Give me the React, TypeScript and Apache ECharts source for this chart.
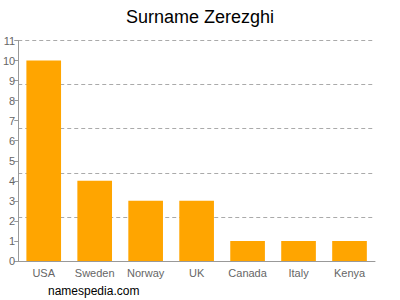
import React, { useEffect, useRef } from "react";
import * as echarts from "echarts";

const categories = ["USA", "Sweden", "Norway", "UK", "Canada", "Italy", "Kenya"];
const values = [10, 4, 3, 3, 1, 1, 1];

export default function App() {
  const ref = useRef<HTMLDivElement>(null);
  useEffect(() => {
    const chart = echarts.init(ref.current!, null, { renderer: "svg" });
    chart.setOption({
      animation: false,
      textStyle: { fontFamily: "Liberation Sans, Arial, sans-serif" },
      title: {
        text: "Surname Zerezghi",
        left: "center",
        top: 3,
        textStyle: { fontSize: 18, fontWeight: "normal", color: "#000", fontFamily: "Liberation Sans, Arial, sans-serif" },
      },
      graphic: [
        {
          type: "text",
          left: 48,
          top: 285,
          style: { text: "namespedia.com", fontSize: 12, fill: "#000", fontFamily: "Liberation Sans, Arial, sans-serif" },
        },
      ],
      grid: { left: 17, right: 25, top: 40.5, bottom: 39, containLabel: false },
      xAxis: {
        type: "category",
        data: categories,
        axisLine: { lineStyle: { color: "#999" } },
        axisTick: { alignWithLabel: true, length: 3, lineStyle: { color: "#999" } },
        axisLabel: { color: "#666", fontSize: 11, margin: 6, interval: 0 },
      },
      yAxis: [
        {
          type: "value",
          min: 0,
          max: 11,
          interval: 1,
          axisLine: { show: true, lineStyle: { color: "#999" } },
          axisTick: { show: true, length: 4, lineStyle: { color: "#999" } },
          axisLabel: { color: "#666", fontSize: 11, margin: 3 },
          splitLine: { show: false },
        },
        {
          type: "value",
          min: 0,
          max: 11,
          interval: 2.2,
          position: "left",
          axisLine: { show: false },
          axisTick: { show: false },
          axisLabel: { show: false },
          splitLine: { show: true, lineStyle: { color: "#aaa", type: [4, 3] } },
        },
      ],
      series: [
        {
          type: "bar",
          data: values,
          barWidth: "68%",
          itemStyle: { color: "#FFA500" },
        },
      ],
    });
    return () => chart.dispose();
  }, []);
  return <div ref={ref} style={{ width: 400, height: 300, position: "absolute", left: 0, top: 0 }} />;
}
